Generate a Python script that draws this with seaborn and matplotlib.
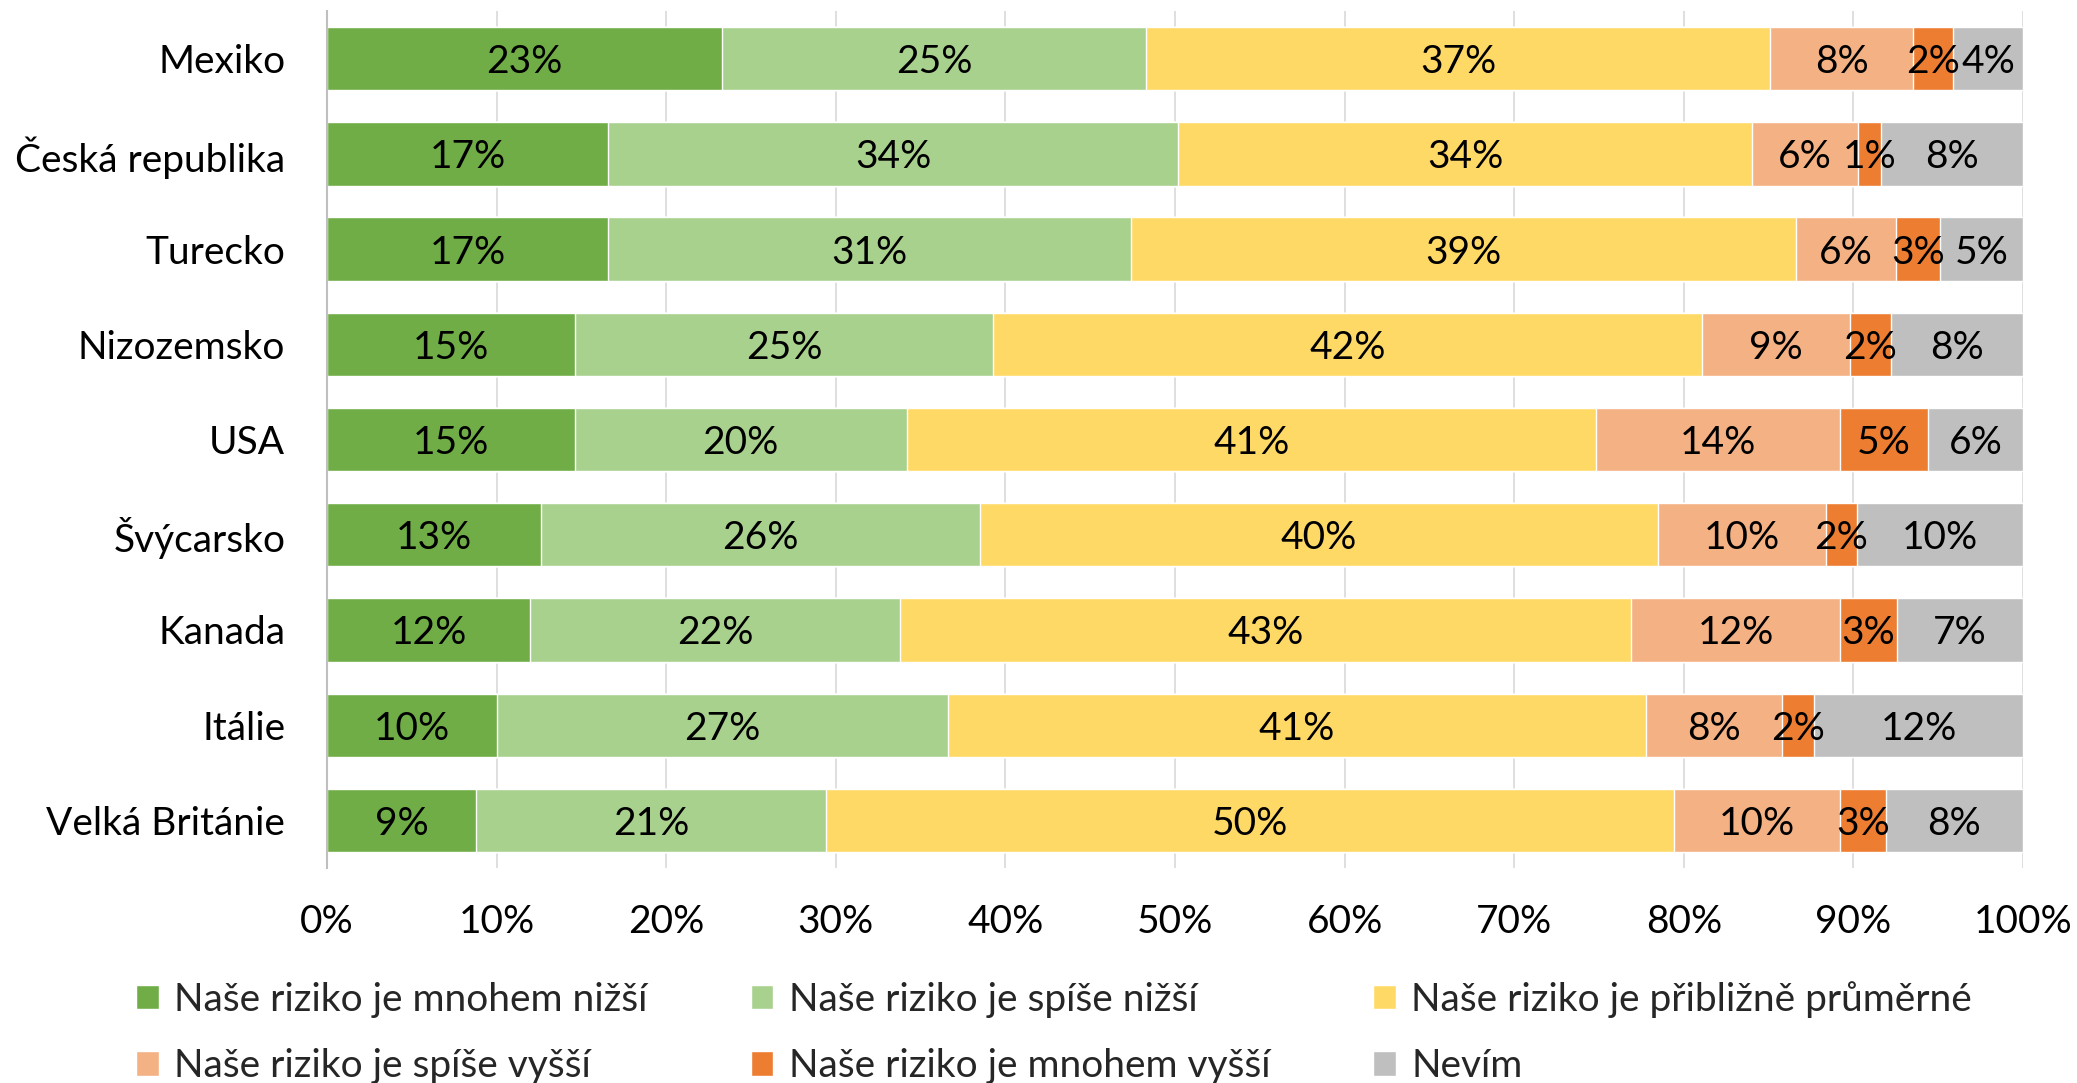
import matplotlib
matplotlib.use("Agg")
import matplotlib.pyplot as plt
import numpy as np
import pandas as pd
import seaborn as sns

countries = ["Mexiko", "Česká republika", "Turecko", "Nizozemsko", "USA",
             "Švýcarsko", "Kanada", "Itálie", "Velká Británie"]

categories = ["Naše riziko je mnohem nižší", "Naše riziko je spíše nižší",
              "Naše riziko je přibližně průměrné", "Naše riziko je spíše vyšší",
              "Naše riziko je mnohem vyšší", "Nevím"]

colors = ["#70AD47", "#A9D18E", "#FFD966", "#F4B183", "#ED7D31", "#BFBFBF"]

# podíly odpovědí v %
mnohem_nizsi = [23.3, 16.6, 16.6, 14.6, 14.6, 12.6, 12.0, 10.0, 8.8]
spise_nizsi = [25.0, 33.6, 30.8, 24.7, 19.6, 25.9, 21.8, 26.6, 20.6]
prumerne = [36.8, 33.8, 39.2, 41.8, 40.6, 40.0, 43.1, 41.2, 50.0]
spise_vyssi = [8.4, 6.3, 5.9, 8.7, 14.4, 9.9, 12.3, 8.0, 9.8]
mnohem_vyssi = [2.4, 1.3, 2.6, 2.4, 5.2, 1.8, 3.4, 1.9, 2.7]
nevim = [4.1, 8.4, 4.9, 7.8, 5.6, 9.8, 7.4, 12.3, 8.1]

series = [mnohem_nizsi, spise_nizsi, prumerne, spise_vyssi, mnohem_vyssi, nevim]

sns.set_theme(style="white")
plt.rcParams["font.family"] = ["Lato", "DejaVu Sans"]
FS = 28

df = pd.DataFrame({cat: vals for cat, vals in zip(categories, series)}, index=countries)
cum = df.cumsum(axis=1)
left = cum.shift(1, axis=1).fillna(0)

fig = plt.figure(figsize=(20.77, 10.83), dpi=100)
ax = fig.add_axes([0.1574, 0.1985, 0.9740 - 0.1574, 0.9898 - 0.1985])

# vrstvené sloupce: nejdelší kumulativní součet kreslíme první
for cat, col in reversed(list(zip(categories, colors))):
    plot_df = pd.DataFrame({"country": countries, "value": cum[cat].values})
    sns.barplot(data=plot_df, x="value", y="country", color=col, width=0.665,
                saturation=1, ax=ax, label=cat, zorder=2)

for cat in categories:
    for i, country in enumerate(countries):
        v = df.loc[country, cat]
        ax.text(left.loc[country, cat] + v / 2, i, f"{v:.0f}%", ha="center",
                va="center_baseline", fontsize=FS, color="black", zorder=3)

ax.set_xlim(0, 100)
ax.set_ylim(8.5, -0.5)
ax.set_xticks(np.arange(0, 101, 10))
ax.set_xticklabels([f"{t}%" for t in range(0, 101, 10)])
ax.set_xlabel("")
ax.set_ylabel("")
ax.grid(axis="x", color="#D9D9D9", linewidth=1.2, zorder=0)
ax.set_axisbelow(True)
for s in ["top", "right", "bottom"]:
    ax.spines[s].set_visible(False)
ax.spines["left"].set_color("#BFBFBF")
ax.spines["left"].set_linewidth(1.5)
ax.tick_params(axis="x", length=0, pad=26, labelsize=FS, colors="black")
ax.tick_params(axis="y", length=0, pad=30, labelsize=FS, colors="black")

handles, labels = ax.get_legend_handles_labels()
if ax.legend_ is not None:
    ax.legend_.remove()
# legenda se plní po sloupcích, pořadí v řádcích jako v originále
order = [labels.index(categories[k]) for k in [0, 3, 1, 4, 2, 5]]
fig.legend([handles[k] for k in order], [labels[k] for k in order],
           loc="upper left", bbox_to_anchor=(0.0655, 0.0945), ncol=3, frameon=False,
           fontsize=FS, handlelength=0.58, handleheight=0.58, handletextpad=0.4,
           columnspacing=2.65, labelspacing=0.79, borderpad=0, borderaxespad=0)

fig.savefig("out.png", dpi=100)
